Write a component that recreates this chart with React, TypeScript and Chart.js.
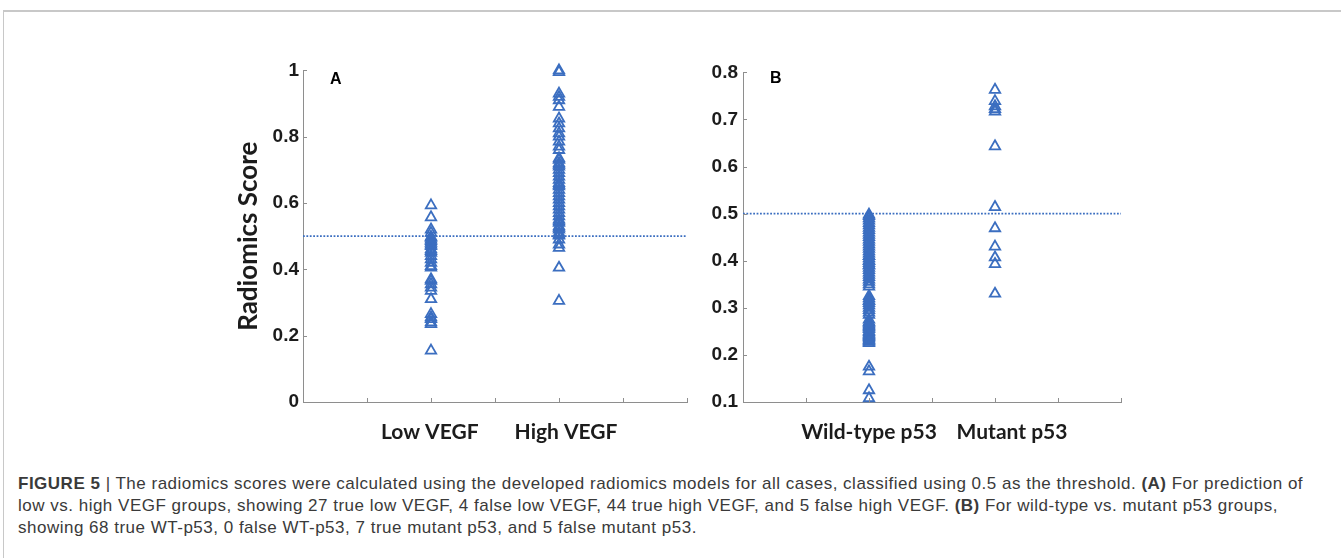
import React, { useEffect, useRef } from 'react';
import { Chart, registerables } from 'chart.js';
Chart.register(...registerables);

// ---- data ----
const categoriesA = ['Low VEGF', 'High VEGF'];
const categoriesB = ['Wild-type p53', 'Mutant p53'];
const categoryPositions = [2, 4];
const labelPositionsA = [1.98, 4.11];
const labelPositionsB = [2.0, 4.27];
const xTickValues = [0, 1, 2, 3, 4, 5, 6];
const yTicksA = [0, 0.2, 0.4, 0.6, 0.8, 1];
const yTicksB = [0.1, 0.2, 0.3, 0.4, 0.5, 0.6, 0.7, 0.8];
const threshold = 0.5;

const lowVEGF = [0.593, 0.557, 0.52, 0.51, 0.498, 0.495, 0.49, 0.485, 0.48, 0.475, 0.47, 0.46, 0.455, 0.45, 0.44, 0.43, 0.42, 0.41, 0.405, 0.37, 0.365, 0.355, 0.345, 0.335, 0.31, 0.265, 0.255, 0.25, 0.24, 0.235, 0.155];
const highVEGF = [1.0, 0.995, 0.93, 0.92, 0.91, 0.89, 0.855, 0.84, 0.825, 0.81, 0.8, 0.785, 0.77, 0.76, 0.735, 0.73, 0.72, 0.715, 0.71, 0.7, 0.69, 0.68, 0.67, 0.66, 0.655, 0.65, 0.64, 0.63, 0.62, 0.61, 0.6, 0.59, 0.58, 0.57, 0.56, 0.55, 0.545, 0.54, 0.53, 0.525, 0.52, 0.51, 0.505, 0.502, 0.49, 0.475, 0.465, 0.405, 0.305];
const wildTypeP53 = [0.498, 0.495, 0.49, 0.485, 0.48, 0.475, 0.47, 0.465, 0.46, 0.455, 0.45, 0.445, 0.44, 0.435, 0.43, 0.425, 0.42, 0.415, 0.41, 0.41, 0.405, 0.4, 0.4, 0.395, 0.39, 0.39, 0.385, 0.38, 0.375, 0.37, 0.365, 0.36, 0.355, 0.35, 0.345, 0.325, 0.32, 0.315, 0.315, 0.31, 0.305, 0.3, 0.295, 0.29, 0.285, 0.275, 0.27, 0.268, 0.265, 0.262, 0.26, 0.258, 0.255, 0.25, 0.248, 0.245, 0.242, 0.24, 0.238, 0.235, 0.232, 0.23, 0.228, 0.225, 0.175, 0.165, 0.125, 0.108];
const mutantP53 = [0.763, 0.739, 0.728, 0.722, 0.717, 0.643, 0.514, 0.469, 0.43, 0.407, 0.393, 0.33];

// ---- styles ----
const BLUE = '#3b6ec0';
const AXIS = '#8e8e8e';
const TEXT = '#1c1c1c';

const inwardTicks = {
  id: 'inwardTicks',
  afterDraw(chart: any) {
    const { ctx, chartArea } = chart;
    const xs = chart.scales.x;
    const ys = chart.scales.y;
    ctx.save();
    ctx.strokeStyle = AXIS;
    ctx.lineWidth = 1;
    ctx.beginPath();
    xTickValues.forEach((v) => {
      if (v === xs.min) return;
      const px = Math.round(xs.getPixelForValue(v)) + 0.5;
      ctx.moveTo(px, chartArea.bottom);
      ctx.lineTo(px, chartArea.bottom - 4);
    });
    ys.ticks.forEach((t: any) => {
      if (t.value === ys.min) return;
      const py = Math.round(ys.getPixelForValue(t.value)) + 0.5;
      ctx.moveTo(chartArea.left, py);
      ctx.lineTo(chartArea.left + 4, py);
    });
    ctx.stroke();
    ctx.restore();
  },
};

function makeConfig(
  groups: number[][],
  categories: string[],
  labelPositions: number[],
  yTicks: number[],
  yWidth: number,
  yPad: number,
  title: string | null
): any {
  const datasets: any[] = [
    {
      type: 'line',
      data: [
        { x: xTickValues[0], y: threshold },
        { x: xTickValues[xTickValues.length - 1], y: threshold },
      ],
      borderColor: BLUE,
      borderWidth: 1.8,
      borderDash: [1.8, 1.6],
      pointRadius: 0,
      fill: false,
    },
  ];
  groups.forEach((g, i) => {
    datasets.push({
      type: 'scatter',
      data: g.map((v) => ({ x: categoryPositions[i], y: v })),
      pointStyle: 'triangle',
      pointRadius: 6,
      borderWidth: 1.8,
      borderColor: BLUE,
      backgroundColor: 'rgba(0,0,0,0)',
      clip: false,
    });
  });
  return {
    type: 'scatter',
    data: { datasets },
    plugins: [inwardTicks],
    options: {
      animation: false,
      responsive: false,
      maintainAspectRatio: false,
      layout: { padding: { top: 15, right: 19, bottom: 0, left: 0 } },
      plugins: { legend: { display: false }, tooltip: { enabled: false } },
      scales: {
        x: {
          type: 'linear',
          min: xTickValues[0],
          max: xTickValues[xTickValues.length - 1],
          afterBuildTicks: (s: any) => {
            const vals = Array.from(new Set([...xTickValues, ...labelPositions])).sort((p, q) => p - q);
            s.ticks = vals.map((v) => ({ value: v }));
          },
          afterFit: (s: any) => {
            s.height = 48;
          },
          grid: { display: true, drawOnChartArea: false, drawTicks: false, color: 'rgba(0,0,0,0)' },
          border: { display: true, color: AXIS, width: 1 },
          ticks: {
            autoSkip: false,
            maxRotation: 0,
            padding: 18,
            color: TEXT,
            font: { family: 'Lato', weight: 'bold', size: 21 },
            callback: (v: any) => {
              const i = labelPositions.indexOf(Number(v));
              return i >= 0 ? categories[i] : '';
            },
          },
        },
        y: {
          type: 'linear',
          min: yTicks[0],
          max: yTicks[yTicks.length - 1],
          afterBuildTicks: (s: any) => {
            s.ticks = yTicks.map((v) => ({ value: v }));
          },
          afterFit: (s: any) => {
            s.width = yWidth;
          },
          grid: { display: true, drawOnChartArea: false, drawTicks: false, color: 'rgba(0,0,0,0)' },
          border: { display: true, color: AXIS, width: 1 },
          ticks: {
            padding: yPad,
            color: TEXT,
            font: { family: 'Liberation Sans', weight: 'bold', size: 19 },
            callback: (v: any) => String(Number(Number(v).toFixed(1))),
          },
          title: title
            ? {
                display: true,
                text: title,
                color: TEXT,
                font: { family: 'Lato', weight: 'bold', size: 26 },
                padding: { top: 7, bottom: 0 },
              }
            : { display: false },
        },
      },
    },
  };
}

export default function App() {
  const refA = useRef<HTMLCanvasElement>(null);
  const refB = useRef<HTMLCanvasElement>(null);

  useEffect(() => {
    const a = new Chart(
      refA.current as HTMLCanvasElement,
      makeConfig([lowVEGF, highVEGF], categoriesA, labelPositionsA, yTicksA, 77, 4, 'Radiomics Score')
    );
    const b = new Chart(
      refB.current as HTMLCanvasElement,
      makeConfig([wildTypeP53, mutantP53], categoriesB, labelPositionsB, yTicksB, 43, 5, null)
    );
    return () => {
      a.destroy();
      b.destroy();
    };
  }, []);

  const panelLabel: React.CSSProperties = {
    position: 'absolute',
    fontFamily: '"Liberation Sans", Arial, sans-serif',
    fontWeight: 'bold',
    fontSize: 16,
    lineHeight: '16px',
    color: '#000',
  };

  return (
    <div style={{ position: 'absolute', left: 0, top: 0, width: 1341, height: 558, overflow: 'hidden', background: '#fff' }}>
      <div
        style={{
          position: 'absolute',
          left: 3,
          top: 10,
          width: 1400,
          height: 700,
          borderTop: '2px solid #c8c8c8',
          borderLeft: '1px solid #c8c8c8',
        }}
      />
      <canvas
        ref={refA}
        width={480}
        height={395}
        style={{ position: 'absolute', left: 226, top: 55, width: 480, height: 395 }}
      />
      <canvas
        ref={refB}
        width={440}
        height={394}
        style={{ position: 'absolute', left: 700, top: 56, width: 440, height: 394 }}
      />
      <div style={{ ...panelLabel, left: 330, top: 71 }}>A</div>
      <div style={{ ...panelLabel, left: 770, top: 70 }}>B</div>
      <div
        style={{
          position: 'absolute',
          left: 18,
          top: 473,
          fontFamily: '"Liberation Sans", Arial, sans-serif',
          fontSize: 17,
          letterSpacing: '0.5px',
          lineHeight: '22px',
          color: '#3a3a3a',
          whiteSpace: 'nowrap',
        }}
      >
        <b>FIGURE 5</b> | The radiomics scores were calculated using the developed radiomics models for all cases, classified using 0.5 as the threshold. <b>(A)</b> For prediction of
        <br />
        low vs. high VEGF groups, showing 27 true low VEGF, 4 false low VEGF, 44 true high VEGF, and 5 false high VEGF. <b>(B)</b> For wild-type vs. mutant p53 groups,
        <br />
        showing 68 true WT-p53, 0 false WT-p53, 7 true mutant p53, and 5 false mutant p53.
      </div>
    </div>
  );
}
